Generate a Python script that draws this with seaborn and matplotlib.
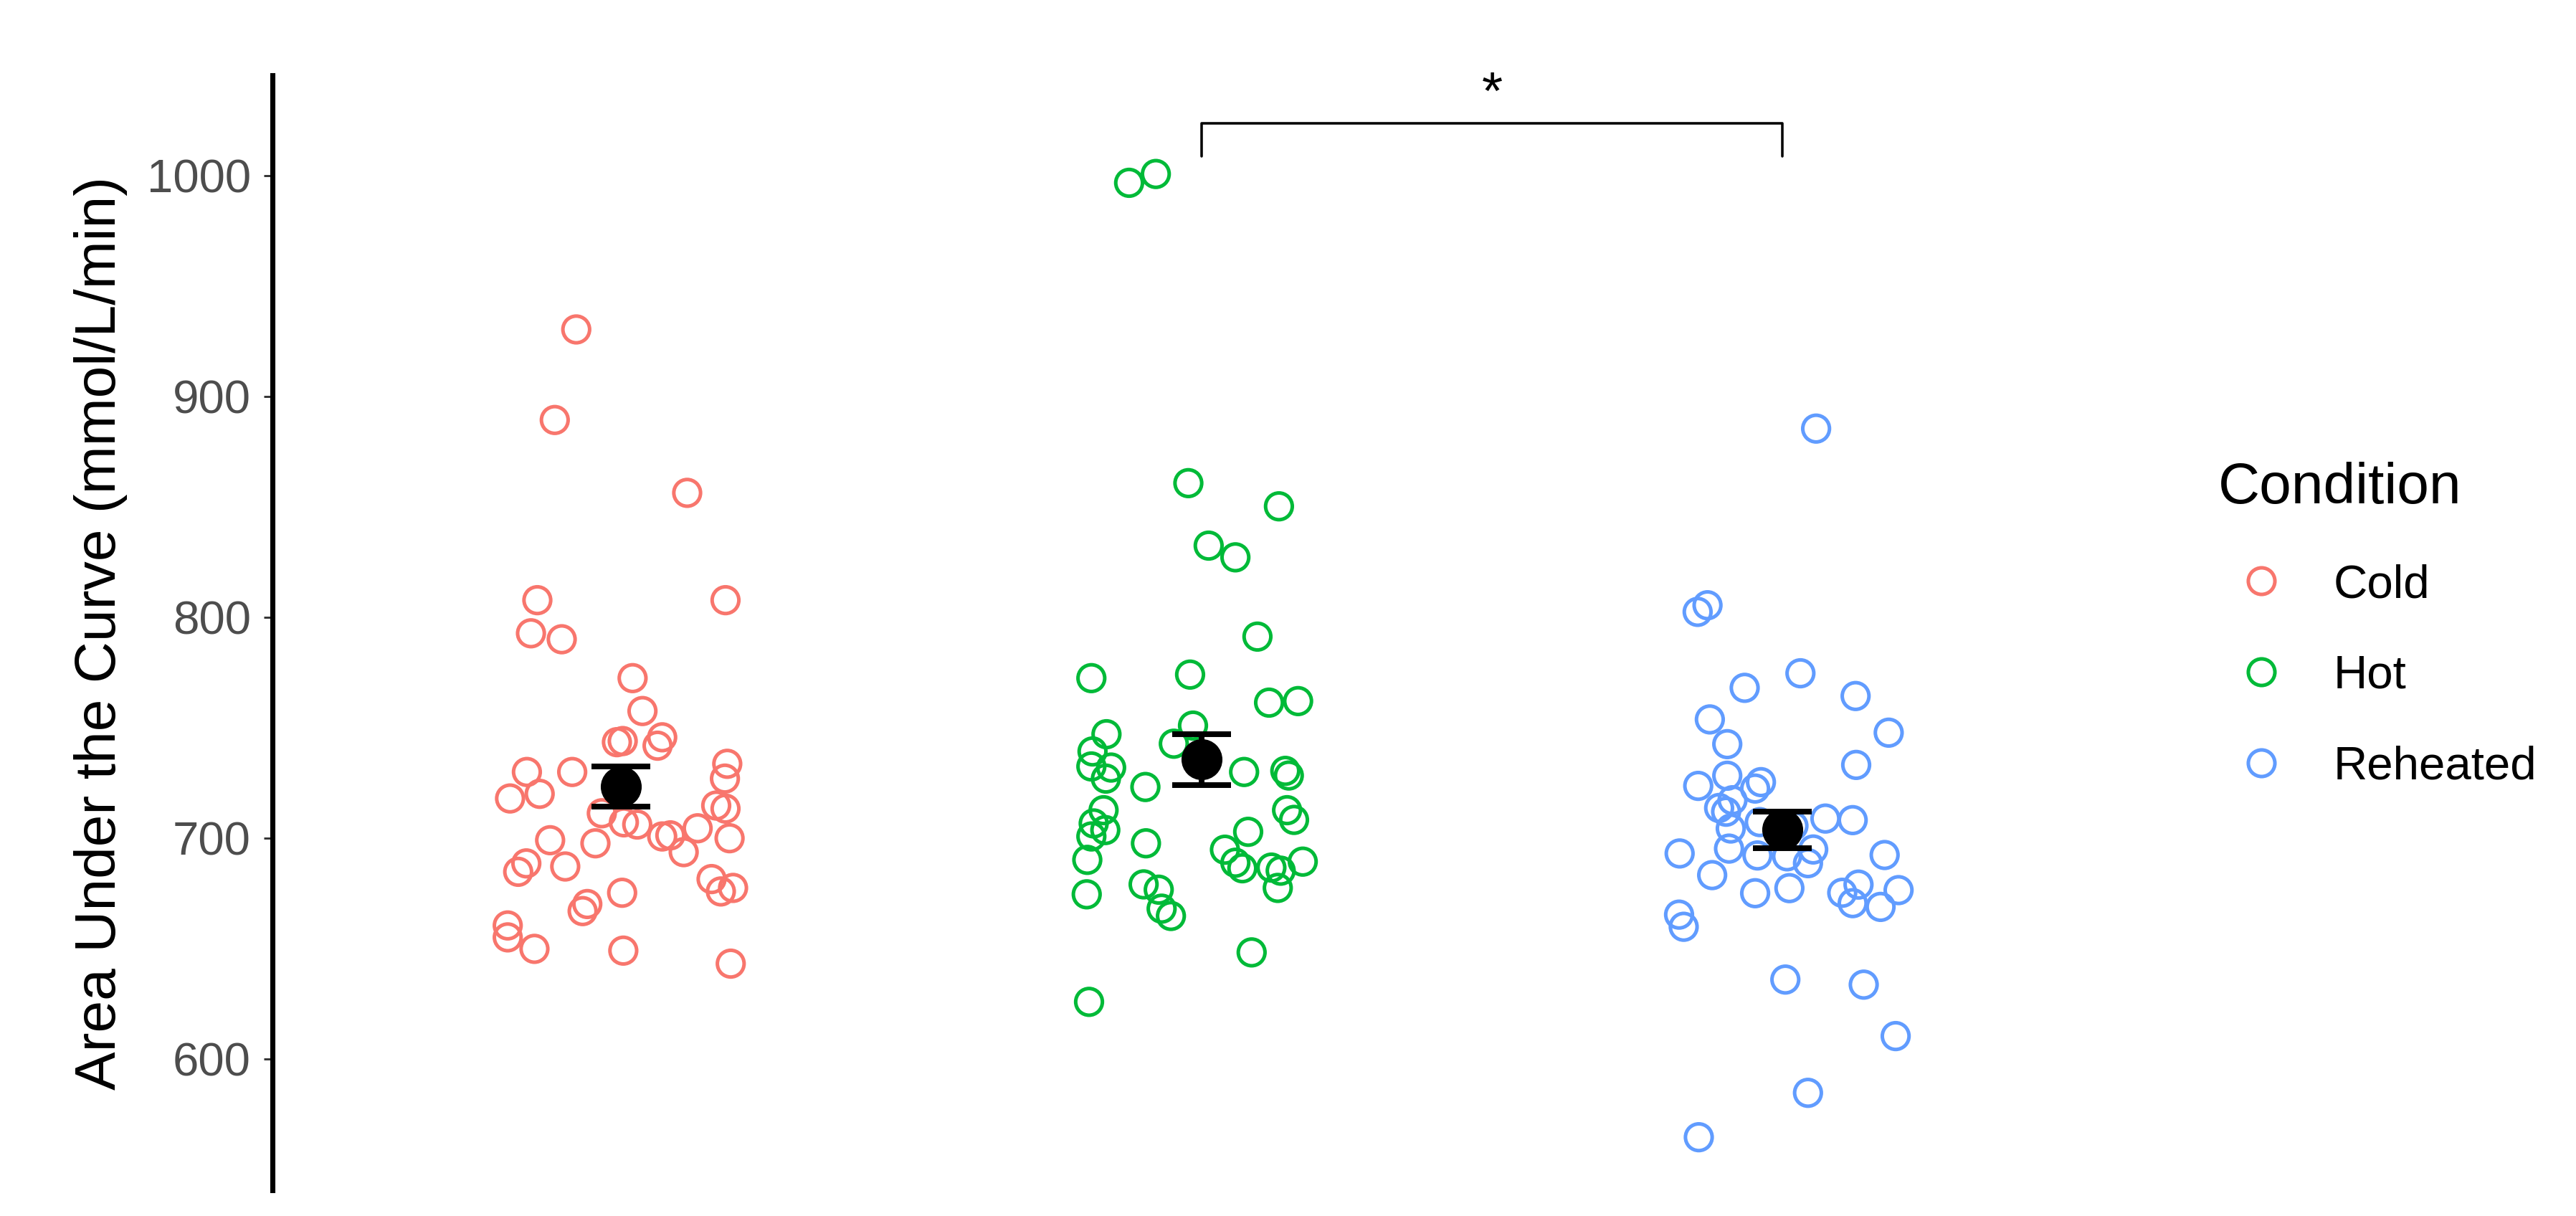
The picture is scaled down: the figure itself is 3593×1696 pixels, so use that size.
import matplotlib
matplotlib.use("Agg")
import matplotlib.pyplot as plt
from matplotlib.lines import Line2D
import pandas as pd
import numpy as np
import seaborn as sns

# values, one list per condition
conditions = ["Cold", "Hot", "Reheated"]
colours = ["#F8766D", "#00BA38", "#619CFF"]

cold_auc = [930.4, 889.4, 856.4, 807.8, 807.8, 792.8, 790.1, 772.5, 757.6, 743.5,
            744.0, 745.7, 741.9, 730.0, 730.0, 718.0, 720.1, 733.7, 727.0, 714.8,
            713.4, 711.3, 707.2, 706.2, 700.8, 701.3, 704.5, 693.7, 700.0, 699.1,
            697.7, 688.6, 684.8, 687.2, 675.3, 681.5, 677.5, 675.9, 670.2, 667.0,
            660.5, 655.1, 649.9, 649.1, 643.2]
cold_jit = [-0.077, -0.114, 0.114, -0.144, 0.180, -0.155, -0.102, 0.020, 0.037, -0.007,
            0.003, 0.071, 0.063, -0.162, -0.084, -0.191, -0.140, 0.183, 0.179, 0.164,
            0.180, -0.033, 0.005, 0.028, 0.071, 0.085, 0.132, 0.108, 0.187, -0.122,
            -0.044, -0.163, -0.177, -0.096, 0.002, 0.156, 0.193, 0.172, -0.058, -0.066,
            -0.195, -0.195, -0.149, 0.004, 0.189]

hot_auc = [996.8, 1000.8, 860.8, 850.3, 832.5, 827.2, 791.3, 772.5, 774.1, 761.4,
           762.1, 747.1, 751.0, 742.8, 739.3, 732.5, 732.0, 727.0, 723.2, 712.7,
           706.7, 703.7, 700.8, 690.2, 697.7, 674.6, 679.1, 676.7, 668.1, 664.8,
           625.9, 730.0, 730.5, 728.4, 712.7, 708.3, 702.9, 694.8, 688.9, 686.4,
           686.7, 685.3, 689.4, 677.5, 648.3]
hot_jit = [-0.125, -0.079, -0.023, 0.133, 0.012, 0.058, 0.096, -0.190, -0.020, 0.116,
           0.166, -0.164, -0.015, -0.048, -0.188, -0.190, -0.156, -0.165, -0.097, -0.169,
           -0.186, -0.166, -0.190, -0.197, -0.096, -0.198, -0.100, -0.074, -0.069, -0.053,
           -0.194, 0.073, 0.144, 0.150, 0.147, 0.159, 0.080, 0.040, 0.058, 0.070,
           0.120, 0.136, 0.174, 0.131, 0.086]

reheated_auc = [885.5, 802.5, 805.5, 774.7, 768.1, 764.4, 753.8, 747.8, 742.6, 733.2,
                723.7, 728.3, 725.4, 722.5, 717.2, 712.0, 704.4, 695.3, 707.3, 692.2,
                691.8, 694.9, 688.7, 708.9, 708.2, 692.4, 693.1, 683.3, 675.1, 677.4,
                675.3, 679.0, 670.6, 668.9, 676.5, 665.4, 659.9, 636.0, 633.7, 610.4,
                584.7, 564.6, 705.6, 713.7]
reheated_jit = [0.058, -0.146, -0.129, 0.031, -0.065, 0.126, -0.125, 0.183, -0.095, 0.127,
                -0.145, -0.095, -0.037, -0.047, -0.086, -0.097, -0.089, -0.092, -0.039, -0.043,
                0.008, 0.053, 0.044, 0.074, 0.121, 0.176, -0.177, -0.121, -0.047, 0.012,
                0.103, 0.131, 0.121, 0.169, 0.200, -0.178, -0.170, 0.005, 0.140, 0.195,
                0.044, -0.144, 0.019, -0.109]

# group means and standard errors as drawn
mean_auc = [723.4, 735.6, 703.8]
se_auc = [9.2, 11.5, 8.3]

# significance bracket between Hot and Reheated
sig_pair = (2, 3)
sig_low, sig_high = 1008.8, 1023.7
sig_label = "*"

frames = []
for i, (name, auc, jit) in enumerate(zip(conditions,
                                         [cold_auc, hot_auc, reheated_auc],
                                         [cold_jit, hot_jit, reheated_jit])):
    frames.append(pd.DataFrame({"Condition": name, "AUC": auc,
                                "pos": np.array(jit) + i + 1}))
df = pd.concat(frames, ignore_index=True)

sns.set_style("white")
plt.rcParams["font.family"] = ["Liberation Sans", "DejaVu Sans"]
plt.rcParams["text.color"] = "black"
plt.rcParams["axes.labelcolor"] = "black"

fig = plt.figure(figsize=(3593 / 300, 1696 / 300), dpi=300)
ax = fig.add_axes([0.1058, 0.0212, 0.7214, 0.9169])

sns.scatterplot(data=df, x="pos", y="AUC", hue="Condition",
                palette=dict(zip(conditions, colours)), s=80, linewidth=1.2,
                legend=False, ax=ax, zorder=2)
pts = ax.collections[0]
pts.set_edgecolors(pts.get_facecolors())
pts.set_facecolors("none")

ax.errorbar([1, 2, 3], mean_auc, yerr=se_auc, fmt="o", color="black",
            ms=12.7, capsize=9.8, elinewidth=1.9, capthick=1.9, zorder=3)

a, b = sig_pair
ax.plot([a, a, b, b], [sig_low, sig_high, sig_high, sig_low], color="black", lw=0.85)
ax.text((a + b) / 2, sig_high + 13, sig_label, ha="center", va="center", fontsize=18)

ax.set_xlim(0.4, 3.6)
ax.set_ylim(540.6, 1045.5)
ax.set_xticks([])
ax.set_yticks([600, 700, 800, 900, 1000])
ax.set_xlabel("")
ax.set_ylabel("Area Under the Curve (mmol/L/min)", fontsize=19.3, color="black")
ax.yaxis.set_label_coords(-0.078, 0.5)
ax.tick_params(axis="y", length=2.8, width=0.7, color="#333333", pad=4.5,
               labelsize=15.7, labelcolor="#4D4D4D", left=True)

sns.despine(ax=ax, top=True, right=True, bottom=True)
ax.spines["left"].set_linewidth(1.7)
ax.spines["left"].set_color("black")

handles = [Line2D([], [], marker="o", ls="", mfc="none", mec=c, ms=8.9, mew=1.2)
           for c in colours]
leg = ax.legend(handles, conditions, title="Condition", loc="upper left",
                bbox_to_anchor=(0.861, 0.620), bbox_transform=fig.transFigure,
                frameon=False, fontsize=15.7, title_fontsize=19.3, borderpad=0,
                handlelength=1.835, handletextpad=0.63, labelspacing=1.02,
                alignment="left", borderaxespad=0)
for t in leg.get_texts():
    t.set_color("black")
leg.get_title().set_color("black")

fig.savefig("out.png", dpi=300)
